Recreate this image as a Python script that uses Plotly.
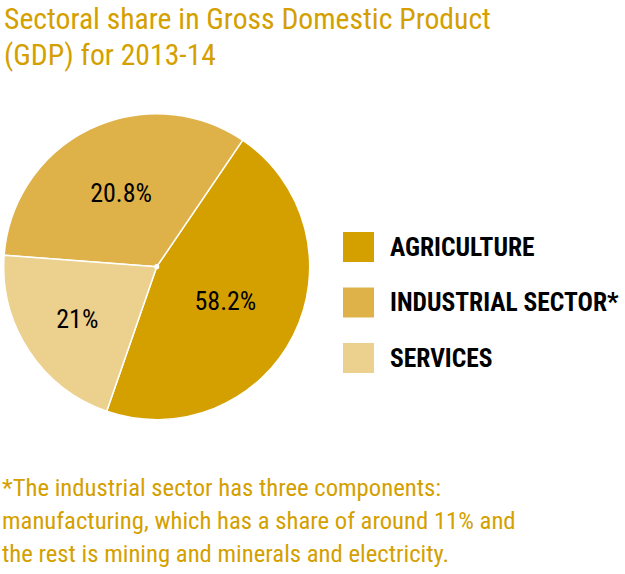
import plotly.graph_objects as go

sectors = ["AGRICULTURE", "INDUSTRIAL SECTOR*", "SERVICES"]
slice_values = [45.8, 33.3, 20.9]          # slice sizes as drawn in the picture
label_text = ["58.2%", "20.8%", "21%"]      # labels printed on the slices
colors = ["#D4A000", "#DEB248", "#ECD08E"]

title_lines = ["Sectoral share in Gross Domestic Product", "(GDP) for 2013-14"]
note_lines = ["*The industrial sector has three components:",
              "manufacturing, which has a share of around 11% and",
              "the rest is mining and minerals and electricity."]

W, H = 625, 574
GOLD = "#D4A000"
NARROW = "Liberation Sans Narrow, Roboto Condensed, DejaVu Sans Condensed, Lato, sans-serif"

fig = go.Figure()
fig.add_trace(go.Pie(
    labels=sectors, values=slice_values, text=label_text,
    textinfo="text", textposition="inside", insidetextorientation="horizontal",
    sort=False, direction="counterclockwise", rotation=34.2,
    marker=dict(colors=colors, line=dict(color="white", width=1.5)),
    textfont=dict(family=NARROW, size=26, color="black"),
    domain=dict(x=[3.7 / W, 309.7 / W], y=[1 - 419.7 / H, 1 - 113.7 / H]),
    showlegend=False, hoverinfo="label+text",
))

annotations = []
for i, line in enumerate(title_lines):
    annotations.append(dict(text=line, xref="paper", yref="paper", x=2 / W, y=1 - (38 + 36 * i) / H,
                            xanchor="left", yanchor="bottom", showarrow=False,
                            font=dict(family=NARROW, size=29.7, color=GOLD)))
for i, line in enumerate(note_lines):
    annotations.append(dict(text=line, xref="paper", yref="paper", x=0, y=1 - (504 + 33 * i) / H,
                            xanchor="left", yanchor="bottom", showarrow=False,
                            font=dict(family=NARROW, size=24.7, color=GOLD)))

shapes = []
for i, (name, c) in enumerate(zip(sectors, colors)):
    top = 232 + 55.5 * i
    shapes.append(dict(type="rect", xref="paper", yref="paper",
                       x0=343 / W, x1=374 / W, y0=1 - (top + 30) / H, y1=1 - top / H,
                       fillcolor=c, line=dict(width=0)))
    annotations.append(dict(text="<b>" + name + "</b>", xref="paper", yref="paper",
                            x=388 / W, y=1 - (top + 15) / H, xanchor="left", yanchor="middle",
                            showarrow=False, font=dict(family=NARROW, size=25.5, color="black")))

# small white hub at the pie centre
cx, cy, r = 156.7, 266.7, 2.6
shapes.append(dict(type="circle", xref="paper", yref="paper",
                   x0=(cx - r) / W, x1=(cx + r) / W, y0=1 - (cy + r) / H, y1=1 - (cy - r) / H,
                   fillcolor="white", line=dict(width=0)))

fig.update_layout(width=W, height=H, margin=dict(l=0, r=0, t=0, b=0),
                  paper_bgcolor="white", plot_bgcolor="white",
                  annotations=annotations, shapes=shapes)
fig.write_html("out.html")
